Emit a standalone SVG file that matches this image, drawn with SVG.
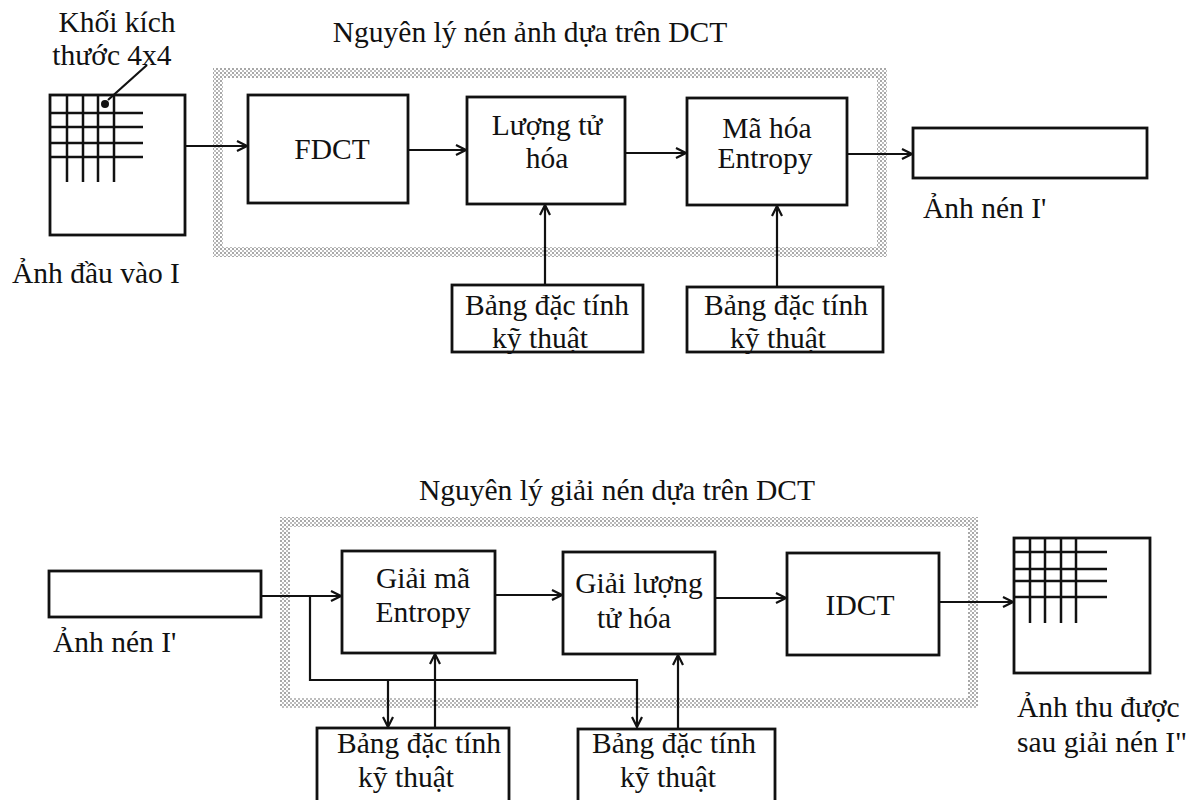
<svg xmlns="http://www.w3.org/2000/svg" width="1192" height="800" viewBox="0 0 1192 800">
  <style>
    .box { fill: #fff; stroke: #111; stroke-width: 2.8; }
    .grid { stroke: #111; stroke-width: 2.5; fill: none; }
    .wire { fill: none; stroke: #111; stroke-width: 2.2; }
    .arrow { fill: none; stroke: #111; stroke-width: 2.2; marker-end: url(#head); }
    text { font-family: "Liberation Serif", "Times New Roman", serif; font-size: 29.5px; fill: #111; }
    .c { text-anchor: middle; }
  </style>
  <defs>
    <pattern id="halftone" width="4" height="4" patternUnits="userSpaceOnUse">
      <rect width="4" height="4" fill="#fff"/>
      <rect x="0" y="0" width="2" height="2" fill="#a8a8a8"/>
      <rect x="2" y="2" width="2" height="2" fill="#bdbdbd"/>
    </pattern>
    <marker id="head" viewBox="0 0 12 12" refX="11" refY="6" markerWidth="12" markerHeight="12" markerUnits="userSpaceOnUse" orient="auto">
      <path d="M1,1 L11,6 L1,11" fill="none" stroke="#111" stroke-width="2.2"/>
    </marker>
  </defs>

  <!-- ===== compression ===== -->
  <text class="c" x="530" y="42">Nguyên lý nén ảnh dựa trên DCT</text>
  <path id="frame-encode" fill="url(#halftone)" fill-rule="evenodd" d="M213,68 H887 V257 H213 Z M223,78 V247 H877 V78 Z"/>

  <g id="input-image">
    <rect class="box" x="50" y="95" width="135" height="140"/>
    <path class="grid" d="M50,113 H143 M50,127 H143 M50,143 H143 M50,157 H143 M67,95 V182 M83,95 V182 M98,95 V182 M114,95 V182"/>
    <circle cx="105" cy="104" r="4" fill="#111"/>
    <path class="wire" d="M108,100 L147,65"/>
    <text class="c" x="117" y="32">Khối kích</text>
    <text class="c" x="112" y="65">thước 4x4</text>
    <text x="12" y="283">Ảnh đầu vào I</text>
  </g>

  <g id="fdct">
    <rect class="box" x="248" y="95" width="160" height="108"/>
    <text class="c" x="332" y="159">FDCT</text>
  </g>
  <g id="quantize">
    <rect class="box" x="467" y="97" width="158" height="107"/>
    <text class="c" x="547" y="135">Lượng tử</text>
    <text class="c" x="547" y="168">hóa</text>
  </g>
  <g id="entropy-encode">
    <rect class="box" x="687" y="98" width="160" height="107"/>
    <text class="c" x="767" y="138">Mã hóa</text>
    <text class="c" x="765" y="168">Entropy</text>
  </g>
  <g id="compressed-out">
    <rect class="box" x="913" y="128" width="234" height="50"/>
    <text x="923" y="218">Ảnh nén I'</text>
  </g>
  <g id="table-q">
    <rect class="box" x="452" y="285" width="191" height="67"/>
    <text class="c" x="547" y="315">Bảng đặc tính</text>
    <text class="c" x="540" y="348">kỹ thuật</text>
  </g>
  <g id="table-e">
    <rect class="box" x="687" y="287" width="196" height="65"/>
    <text class="c" x="786" y="315">Bảng đặc tính</text>
    <text class="c" x="778" y="348">kỹ thuật</text>
  </g>

  <g id="connectors-encode">
    <path class="arrow" d="M185,146 H247"/>
    <path class="arrow" d="M408,150 H466"/>
    <path class="arrow" d="M625,153 H686"/>
    <path class="arrow" d="M847,154 H912"/>
    <path class="arrow" d="M545,285 V205"/>
    <path class="arrow" d="M777,287 V206"/>
  </g>

  <!-- ===== decompression ===== -->
  <text class="c" x="617" y="500">Nguyên lý giải nén dựa trên DCT</text>
  <path id="frame-decode" fill="url(#halftone)" fill-rule="evenodd" d="M280,517 H978 V708 H280 Z M290,527 V698 H968 V527 Z"/>

  <g id="compressed-in">
    <rect class="box" x="49" y="571" width="212" height="46"/>
    <text x="53" y="652">Ảnh nén I'</text>
  </g>
  <g id="entropy-decode">
    <rect class="box" x="342" y="551" width="153" height="102"/>
    <text class="c" x="423" y="588">Giải mã</text>
    <text class="c" x="423" y="622">Entropy</text>
  </g>
  <g id="dequantize">
    <rect class="box" x="563" y="552" width="152" height="102"/>
    <text class="c" x="639" y="593">Giải lượng</text>
    <text class="c" x="634" y="628">tử hóa</text>
  </g>
  <g id="idct">
    <rect class="box" x="787" y="553" width="152" height="102"/>
    <text class="c" x="860" y="615">IDCT</text>
  </g>
  <g id="output-image">
    <rect class="box" x="1014" y="538" width="136" height="135"/>
    <path class="grid" d="M1014,552 H1107 M1014,569 H1107 M1014,581 H1107 M1014,597 H1107 M1030,538 V623 M1045,538 V623 M1061,538 V623 M1076,538 V623"/>
    <text x="1017" y="717">Ảnh thu được</text>
    <text x="1017" y="752">sau giải nén I"</text>
  </g>
  <g id="table-ed">
    <rect class="box" x="317" y="728" width="192" height="80"/>
    <text class="c" x="419" y="753">Bảng đặc tính</text>
    <text class="c" x="406" y="787">kỹ thuật</text>
  </g>
  <g id="table-dq">
    <rect class="box" x="578" y="729" width="197" height="80"/>
    <text class="c" x="674" y="753">Bảng đặc tính</text>
    <text class="c" x="668" y="787">kỹ thuật</text>
  </g>

  <g id="connectors-decode">
    <path class="arrow" d="M261,596 H341"/>
    <path class="arrow" d="M310,596 V680 H637 V727"/>
    <path class="arrow" d="M388,680 V727"/>
    <path class="arrow" d="M435,728 V654"/>
    <path class="arrow" d="M678,729 V655"/>
    <path class="arrow" d="M495,595 H562"/>
    <path class="arrow" d="M715,598 H786"/>
    <path class="arrow" d="M939,602 H1013"/>
  </g>
</svg>
